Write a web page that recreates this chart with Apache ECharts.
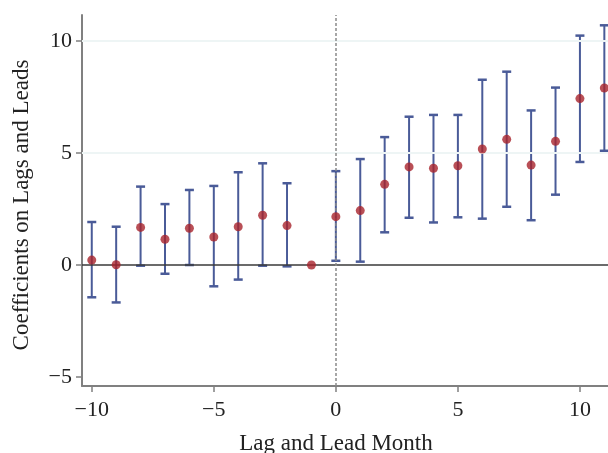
<!DOCTYPE html>
<html><head><meta charset="utf-8">
<script src="https://cdn.jsdelivr.net/npm/echarts@6/dist/echarts.min.js"></script>
<style>html,body{margin:0;padding:0;background:#fff}#c{width:608px;height:453px}</style>
</head><body><div id="c"></div>
<script>
var months = [-10,-9,-8,-7,-6,-5,-4,-3,-2,-1,0,1,2,3,4,5,6,7,8,9,10,11];
var coef   = [0.22,0.01,1.68,1.15,1.64,1.25,1.71,2.22,1.76,0,2.16,2.43,3.6,4.38,4.32,4.43,5.18,5.61,4.46,5.52,7.43,7.9];
var lower  = [-1.44,-1.67,-0.03,-0.39,0,-0.95,-0.65,-0.03,-0.06,null,0.19,0.15,1.46,2.11,1.9,2.13,2.07,2.6,2.0,3.14,4.6,5.1];
var upper  = [1.92,1.71,3.5,2.72,3.35,3.53,4.14,4.54,3.65,null,4.19,4.73,5.71,6.62,6.7,6.7,8.27,8.63,6.9,7.92,10.24,10.7];
var xTicks = [-10,-5,0,5,10];
var yTicks = [-5,0,5,10];

var FONT = '"Liberation Serif", "DejaVu Serif", serif';
function fmt(v){ return v < 0 ? '\u2212' + Math.abs(v) : String(v); }

var errData = [], ptData = [];
for (var i = 0; i < months.length; i++) {
  ptData.push([months[i], coef[i]]);
  if (lower[i] !== null) errData.push([months[i], lower[i], upper[i]]);
}

var chart = echarts.init(document.getElementById('c'), null, {renderer: 'canvas'});
chart.setOption({
  animation: false,
  backgroundColor: '#fff',
  grid: {left: 82, right: 0, top: 15, bottom: 67, containLabel: false},
  xAxis: {
    type: 'value', min: -10.4, max: 11.15,
    axisLine: {show: true, onZero: false, lineStyle: {color: '#808080', width: 2}},
    axisTick: {show: true, length: 6, lineStyle: {color: '#808080', width: 1.5}, customValues: xTicks},
    axisLabel: {customValues: xTicks, formatter: fmt, fontFamily: FONT, fontSize: 22, color: '#222', margin: 13},
    splitLine: {show: false}
  },
  yAxis: {
    type: 'value', min: -5.4, max: 11.16,
    axisLine: {show: true, onZero: false, lineStyle: {color: '#808080', width: 2}},
    axisTick: {show: true, length: 6, lineStyle: {color: '#808080', width: 1.5}, customValues: yTicks},
    axisLabel: {customValues: yTicks, formatter: fmt, fontFamily: FONT, fontSize: 22, color: '#222', margin: 10},
    splitLine: {show: false}
  },
  graphic: [
    {type: 'text', x: 336, y: 444, style: {text: 'Lag and Lead Month', font: '23px ' + FONT, fill: '#222', textAlign: 'center', textVerticalAlign: 'middle'}},
    {type: 'text', x: 22, y: 205, rotation: Math.PI/2, style: {text: 'Coefficients on Lags and Leads', font: '23px ' + FONT, fill: '#222', textAlign: 'center', textVerticalAlign: 'middle'}}
  ],
  series: [
    {
      type: 'line', data: [], silent: true,
      markLine: {
        silent: true, symbol: 'none', animation: false, label: {show: false},
        data: [
          {yAxis: 10, lineStyle: {color: '#eef5f5', width: 2, type: 'solid'}},
          {yAxis: 5, lineStyle: {color: '#eef5f5', width: 2, type: 'solid'}},
          {yAxis: 0, lineStyle: {color: '#3a3a3a', width: 1.6, type: 'solid'}},
          {xAxis: 0, lineStyle: {color: '#8a8a8a', width: 1.5, type: [3, 2]}}
        ]
      }
    },
    {
      type: 'custom', z: 3, data: errData,
      renderItem: function (params, api) {
        var x = api.value(0);
        var lo = api.coord([x, api.value(1)]);
        var hi = api.coord([x, api.value(2)]);
        var w = 4.5;
        var st = {stroke: '#4a5b98', lineWidth: 2};
        return {type: 'group', children: [
          {type: 'line', shape: {x1: lo[0], y1: lo[1], x2: hi[0], y2: hi[1]}, style: st},
          {type: 'line', shape: {x1: lo[0]-w, y1: lo[1], x2: lo[0]+w, y2: lo[1]}, style: {stroke: '#4a5b98', lineWidth: 2.5}},
          {type: 'line', shape: {x1: hi[0]-w, y1: hi[1], x2: hi[0]+w, y2: hi[1]}, style: {stroke: '#4a5b98', lineWidth: 2.5}}
        ]};
      }
    },
    {
      type: 'scatter', z: 5, data: ptData, symbol: 'circle', symbolSize: 9,
      itemStyle: {color: '#a8232c'}
    }
  ]
});
</script></body></html>
